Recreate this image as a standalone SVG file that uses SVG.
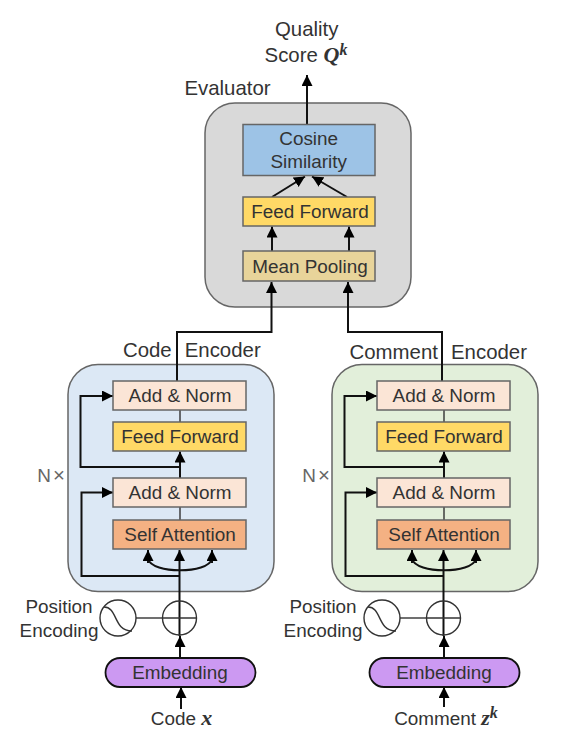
<svg xmlns="http://www.w3.org/2000/svg" width="568" height="729" viewBox="0 0 568 729">
<style>
text{font-family:"Liberation Sans",Arial,sans-serif;font-size:18.9px;fill:#333;text-anchor:middle}
.big{font-size:20.4px}
.m{font-family:"Liberation Serif","DejaVu Serif",serif;font-weight:bold;font-style:italic;font-size:22px}
.s{font-size:16px}
.g{fill:#666}
.l{fill:none;stroke:#111;stroke-width:2}
.t{fill:none;stroke:#333;stroke-width:1.4}
.b{stroke:#666;stroke-width:1.5}
.p{stroke:#666;stroke-width:1.5}
</style>
<defs>
<marker id="a" markerUnits="userSpaceOnUse" markerWidth="12" markerHeight="12" refX="11" refY="5.500" orient="auto"><path d="M0,0L11,5.500L0,11Z" fill="#000"/></marker>
</defs>
<rect width="568" height="729" fill="#fff"/>
<g id="evaluator"><rect class="p" x="205" y="103" width="206" height="204" rx="30" fill="#d9d9d9"/><text class="big" x="227.500" y="95">Evaluator</text></g>
<g id="code-encoder"><rect class="p" x="68" y="364.500" width="206" height="227" rx="30" fill="#dce8f5"/><text class="big" x="147.300" y="357">Code</text><text class="big" x="222.700" y="357">Encoder</text><text class="g" x="44" y="482">N</text><text class="g big" x="59" y="482">×</text></g>
<g id="comment-encoder"><rect class="p" x="332" y="364.500" width="206" height="227" rx="30" fill="#e2efda"/><text class="big" x="393.700" y="359">Comment</text><text class="big" x="489" y="359">Encoder</text><text class="g" x="309" y="482">N</text><text class="g big" x="324" y="482">×</text></g>
<g id="connectors">
<path class="l" d="M307 124V75" marker-end="url(#a)"/>
<path class="l" d="M272 197L305 176.500" marker-end="url(#a)"/>
<path class="l" d="M347 197L312 176.500" marker-end="url(#a)"/>
<path class="l" d="M272 251V226.500" marker-end="url(#a)"/>
<path class="l" d="M349 251V226.500" marker-end="url(#a)"/>
<path class="l" d="M177 381V332H271.500V282" marker-end="url(#a)"/>
<path class="l" d="M442 381V332H348V282" marker-end="url(#a)"/>
<path class="l" d="M179.500 636V550" marker-end="url(#a)"/>
<path class="l" d="M179.500 576H81.500V492.500H113" marker-end="url(#a)"/>
<path class="l" d="M180 478V451.500" marker-end="url(#a)"/>
<path class="l" d="M180 467H80.500V396H113" marker-end="url(#a)"/>
<path class="t" d="M180 507V520M180 410V422"/>
<path class="l" d="M148 559C152 574 208 574 212 559"/>
<path class="l" d="M148 563V550" marker-end="url(#a)"/>
<path class="l" d="M212 563V550" marker-end="url(#a)"/>
<path class="l" d="M443.500 636V550" marker-end="url(#a)"/>
<path class="l" d="M443.500 576H345.500V492.500H377" marker-end="url(#a)"/>
<path class="l" d="M444 478V451.500" marker-end="url(#a)"/>
<path class="l" d="M444 467H344.500V396H377" marker-end="url(#a)"/>
<path class="t" d="M444 507V520M444 410V422"/>
<path class="l" d="M412 559C416 574 472 574 476 559"/>
<path class="l" d="M412 563V550" marker-end="url(#a)"/>
<path class="l" d="M476 563V550" marker-end="url(#a)"/>
<path class="t" d="M136 618H163"/>
<path class="l" d="M180 658V636" marker-end="url(#a)"/>
<path class="l" d="M181 709V687" marker-end="url(#a)"/>
<path class="t" d="M400 618H426"/>
<path class="l" d="M444 658V636" marker-end="url(#a)"/>
<path class="l" d="M444 707V687" marker-end="url(#a)"/>
</g>
<g id="cosine"><rect class="b" x="243" y="124.500" width="132" height="51" fill="#9dc3e6"/><text x="308.700" y="145">Cosine</text><text x="308.700" y="168">Similarity</text></g>
<g id="eval-ff"><rect class="b" x="243" y="197" width="132" height="29" fill="#ffd966"/><text x="310" y="218">Feed Forward</text></g>
<g id="pool"><rect class="b" x="243" y="251" width="132" height="30" fill="#e8d49a"/><text x="310" y="273">Mean Pooling</text></g>
<g id="code-an2"><rect class="b" x="113" y="381" width="133" height="29" fill="#fbe5d6"/><text x="180" y="402">Add &amp; Norm</text></g>
<g id="code-ff"><rect class="b" x="113" y="422" width="133" height="29" fill="#ffd966"/><text x="180" y="443">Feed Forward</text></g>
<g id="code-an1"><rect class="b" x="113" y="478" width="133" height="29" fill="#fbe5d6"/><text x="180" y="499">Add &amp; Norm</text></g>
<g id="code-sa"><rect class="b" x="113" y="520" width="133" height="29" fill="#f4b183"/><text x="180" y="541">Self Attention</text></g>
<g id="comment-an2"><rect class="b" x="377" y="381" width="133" height="29" fill="#fbe5d6"/><text x="444" y="402">Add &amp; Norm</text></g>
<g id="comment-ff"><rect class="b" x="377" y="422" width="133" height="29" fill="#ffd966"/><text x="444" y="443">Feed Forward</text></g>
<g id="comment-an1"><rect class="b" x="377" y="478" width="133" height="29" fill="#fbe5d6"/><text x="444" y="499">Add &amp; Norm</text></g>
<g id="comment-sa"><rect class="b" x="377" y="520" width="133" height="29" fill="#f4b183"/><text x="444" y="541">Self Attention</text></g>
<g id="code-pos"><circle class="t" cx="118" cy="618" r="18" fill="#fff"/><path class="t" d="M104 607C118 607 113 631 132 631"/><text x="59" y="613">Position</text><text x="59" y="637">Encoding</text></g>
<g id="code-add"><circle class="t" cx="179.500" cy="618" r="17"/><path class="t" d="M162.500 618H196.500"/></g>
<g id="code-emb"><rect x="105.500" y="658" width="150" height="29" rx="14.500" fill="#cc99f2" stroke="#111" stroke-width="1.8"/><text x="180" y="679">Embedding</text></g>
<g id="comment-pos"><circle class="t" cx="382" cy="618" r="18" fill="#fff"/><path class="t" d="M368 607C382 607 377 631 396 631"/><text x="323" y="613">Position</text><text x="323" y="637">Encoding</text></g>
<g id="comment-add"><circle class="t" cx="443.500" cy="618" r="17"/><path class="t" d="M426.500 618H460.500"/></g>
<g id="comment-emb"><rect x="369.500" y="658" width="150" height="29" rx="14.500" fill="#cc99f2" stroke="#111" stroke-width="1.8"/><text x="444" y="679">Embedding</text></g>
<g id="labels">
<text class="big" x="306.700" y="36">Quality</text>
<text class="big" x="306" y="61.500">Score <tspan class="m">Q</tspan><tspan class="m s" dy="-7">k</tspan></text>
<text x="181.500" y="724.500">Code <tspan class="m">x</tspan></text>
<text x="446" y="724.500">Comment <tspan class="m">z</tspan><tspan class="m s" dy="-7">k</tspan></text>
</g>
</svg>
